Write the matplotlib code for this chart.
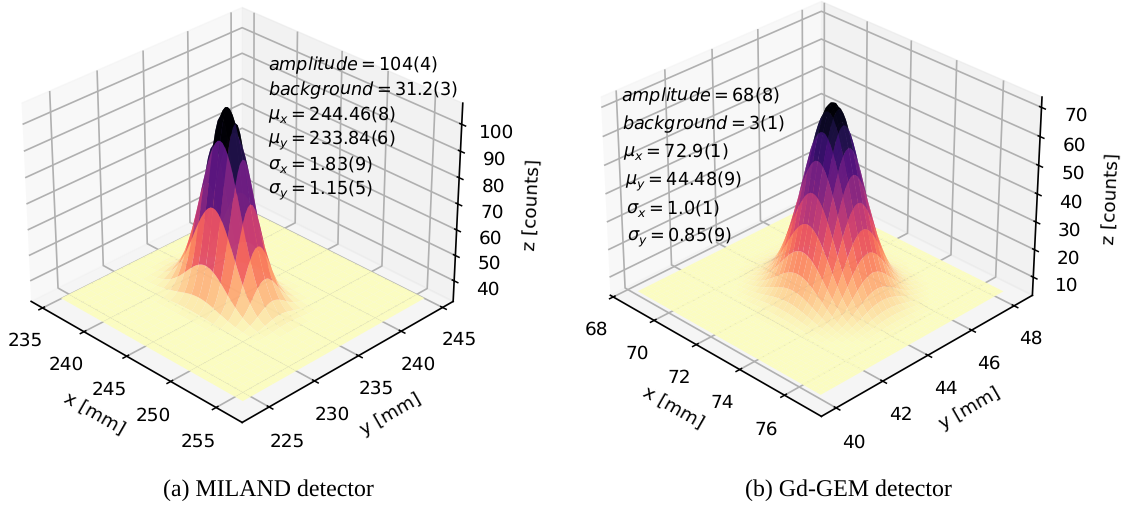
import matplotlib
matplotlib.use("Agg")
import matplotlib.pyplot as plt
import numpy as np

# peak shape, from the centre of the peak outwards, one value per mesh step
tail_x_a = [1, .993, .971, .936, .889, .832, .767, .697, .624, .550, .478, .410, .346, .288, .236,
            .190, .152, .119, .092, .070, .052, .039, .028, .020, .014, .010, .0069, .0046, .0031,
            .0020, .0013, .0008, .0005, .0003, .0002]
tail_y_a = [1, .981, .928, .845, .742, .627, .511, .401, .303, .220, .155, .104, .068, .043, .026,
            .015, .0084, .0045, .0024, .0012, .0006, .0003, .0001]
tail_x_b = [1, .994, .976, .946, .906, .857, .801, .739, .674, .607, .539, .474, .411, .352, .298,
            .249, .206, .168, .135, .108, .085, .066, .050, .038, .029, .021, .015, .011, .0079,
            .0056, .0039, .0027, .0018, .0012, .0008, .0005, .0003, .0002, .0001]
tail_y_b = [1, .991, .966, .926, .872, .808, .735, .658, .579, .501, .426, .356, .292, .236, .187,
            .146, .112, .085, .063, .046, .033, .023, .016, .011, .0073, .0048, .0031, .0020,
            .0012, .0008, .0005, .0003, .0002, .0001]

centre_a = (244.46, 233.84)
centre_b = (72.9, 44.48)
step_a = 5 / 18
step_b = 1 / 9
floor_a = 33
peak_a = 105
floor_b = 4.5
peak_b = 71

labels_a = [r"$amplitude = 104(4)$", r"$background = 31.2(3)$", r"$\mu_x = 244.46(8)$",
            r"$\mu_y = 233.84(6)$", r"$\sigma_x = 1.83(9)$", r"$\sigma_y = 1.15(5)$"]
labels_b = [r"$amplitude = 68(8)$", r"$background = 3(1)$", r"$\mu_x = 72.9(1)$",
            r"$\mu_y = 44.48(9)$", r"$\sigma_x = 1.0(1)$", r"$\sigma_y = 0.85(9)$"]
xticks_a = [235, 240, 245, 250, 255]
yticks_a = [225, 230, 235, 240, 245]
zticks_a = [40, 50, 60, 70, 80, 90, 100]
xticks_b = [68, 70, 72, 74, 76]
yticks_b = [40, 42, 44, 46, 48]
zticks_b = [10, 20, 30, 40, 50, 60, 70]

W, H = 1128, 507
plt.rcParams["font.size"] = 13.3
plt.rcParams["text.hinting"] = "no_hinting"
plt.rcParams["grid.linewidth"] = 1.2
plt.rcParams["axes.linewidth"] = 1.2
plt.rcParams["xtick.major.width"] = 1.1
plt.rcParams["ytick.major.width"] = 1.1
fig = plt.figure(figsize=(W / 100, H / 100), dpi=100)


def full_profile(tail, kc, n):
    prof = np.zeros(n)
    for k in range(n):
        if abs(k - kc) < len(tail):
            prof[k] = tail[abs(k - kc)]
    return prof


def panel(rect, centre, step, tail_x, tail_y, mesh, stride, floor, peak,
          xticks, yticks, zticks, xlim, ylim, zlim):
    kx, nx, ky, ny = mesh
    ax = fig.add_axes(rect, projection="3d")
    x = centre[0] + step * (np.arange(nx) - kx)
    y = centre[1] + step * (np.arange(ny) - ky)
    X, Y = np.meshgrid(x, y, indexing="ij")
    Z = floor + (peak - floor) * np.outer(full_profile(tail_x, kx, nx), full_profile(tail_y, ky, ny))
    ax.plot_surface(X, Y, Z, cmap="magma_r", linewidth=0, antialiased=True, alpha=0.96,
                    rstride=stride, cstride=stride)
    ax.view_init(elev=30, azim=-45)
    ax.set_xlim(xlim, view_margin=0)
    ax.set_ylim(ylim, view_margin=0)
    ax.set_zlim(zlim, view_margin=0)
    ax.set_xticks(xticks)
    ax.set_yticks(yticks)
    ax.set_zticks(zticks)
    ax.tick_params(pad=6)
    ax.set_xlabel("x [mm]", labelpad=10)
    ax.set_ylabel("y [mm]", labelpad=10)
    ax.set_zlabel("z [counts]", labelpad=10)
    ax.patch.set_alpha(0)
    return ax


panel([-0.051, 0.1165, 0.52, 0.935], centre_a, step_a, tail_x_a, tail_y_a, (33, 76, 36, 76), 3,
      floor_a, peak_a, xticks_a, yticks_a, zticks_a, (233.6, 257.8), (222.1, 246.3), (31.8, 107.8))
panel([0.4625, 0.1285, 0.52, 0.935], centre_b, step_b, tail_x_b, tail_y_b, (40, 77, 40, 75), 2,
      floor_b, peak_b, xticks_b, yticks_b, zticks_b, (67.86, 77.6), (39.38, 48.88), (3.3, 73.5))

for i, t in enumerate(labels_a):
    fig.text(268 / W, 1 - (65 + 25 * i) / H, t, va="center", ha="left", fontsize=12.7)
for i, t in enumerate(labels_b):
    fig.text((621 + 1.2 * i) / W, 1 - (96 + 28.2 * i) / H, t, va="center", ha="left", fontsize=12.7)

fig.text(268 / W, 1 - 490 / H, "(a) MILAND detector", ha="center", va="center",
         family="Liberation Serif", fontsize=17.2)
fig.text(848 / W, 1 - 490 / H, "(b) Gd-GEM detector", ha="center", va="center",
         family="Liberation Serif", fontsize=17.2)

fig.savefig("out.png", dpi=100)
